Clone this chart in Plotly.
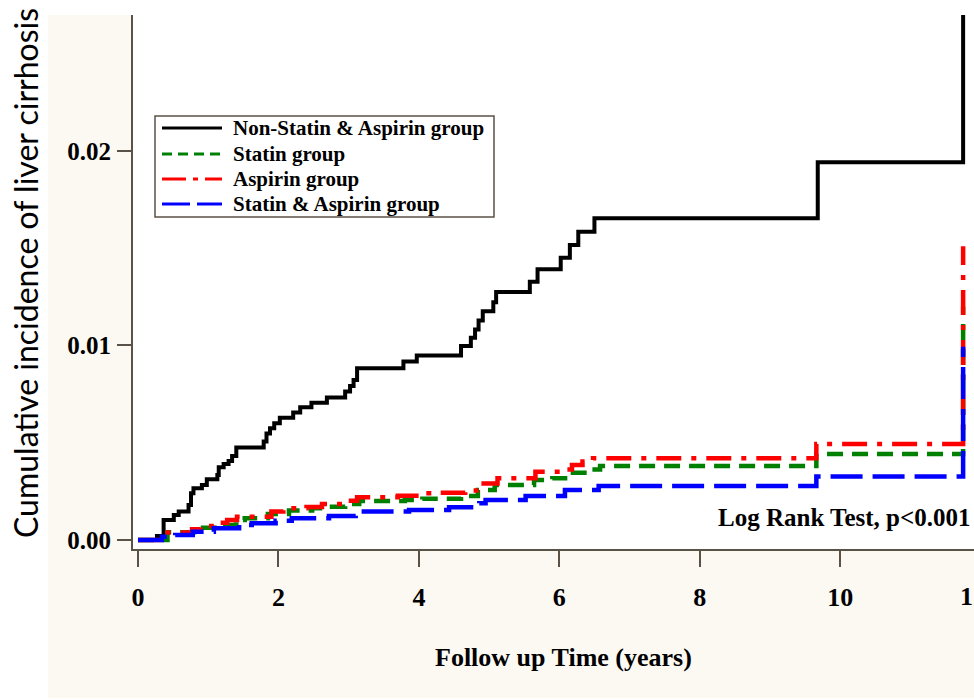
import plotly.graph_objects as go

# ---------------- data ----------------
groups = ["Non-Statin & Aspirin group", "Statin group", "Aspirin group", "Statin & Aspirin group"]

t_non = [0, 0.27, 0.365, 0.51, 0.58, 0.72, 0.755, 0.79, 0.91, 0.98, 1.13, 1.15, 1.22, 1.29, 1.34,
         1.40, 1.79, 1.83, 1.88, 1.94, 2.02, 2.21, 2.31, 2.47, 2.69, 2.95, 3.02, 3.07, 3.12, 3.78,
         3.97, 4.60, 4.74, 4.80, 4.85, 4.91, 5.06, 5.10, 5.58, 5.69, 6.02, 6.15, 6.27, 6.50, 9.68, 11.75]
y_non = [0, 0.0002, 0.00103, 0.00129, 0.00146, 0.0018, 0.0024, 0.00266, 0.00283, 0.00312, 0.00334,
         0.00374, 0.00391, 0.00406, 0.00432, 0.00475, 0.00506, 0.00548, 0.00574, 0.006, 0.00629,
         0.00655, 0.00682, 0.00706, 0.00732, 0.00763, 0.00792, 0.00823, 0.00883, 0.00917, 0.00948,
         0.00997, 0.0104, 0.01082, 0.01128, 0.01176, 0.01222, 0.01275, 0.01328, 0.01392, 0.01451,
         0.01517, 0.01585, 0.01654, 0.01942, 0.028]

t_statin = [0, 0.42, 0.80, 1.13, 1.40, 1.52, 1.85, 2.15, 2.48, 2.68, 2.95, 3.15, 3.80, 4.05, 4.60,
            4.84, 5.08, 5.64, 5.90, 6.13, 6.42, 6.58, 9.66, 11.75]
y_statin = [0, 0.0004, 0.00063, 0.00077, 0.00103, 0.00112, 0.00134, 0.00151, 0.00163, 0.00171,
            0.00185, 0.002, 0.00206, 0.00212, 0.00226, 0.00257, 0.00283, 0.00308, 0.00317, 0.00346,
            0.00363, 0.0038, 0.00442, 0.0120]

t_asp = [0, 0.42, 0.77, 0.89, 1.08, 1.27, 1.41, 1.90, 2.07, 2.40, 2.62, 2.98, 3.12, 3.70, 4.05,
         4.26, 4.66, 4.82, 5.12, 5.66, 6.04, 6.18, 6.33, 6.48, 9.66, 11.75]
y_asp = [0, 0.00038, 0.00055, 0.00072, 0.00089, 0.00103, 0.0012, 0.00146, 0.00163, 0.0017, 0.00185,
         0.00202, 0.0022, 0.00228, 0.0024, 0.00243, 0.00254, 0.00291, 0.00317, 0.00351, 0.00363,
         0.00386, 0.00403, 0.0042, 0.00493, 0.0151]

t_both = [0, 0.34, 0.53, 0.78, 1.08, 1.44, 1.62, 1.96, 2.19, 2.72, 3.10, 3.86, 4.43, 4.86, 4.95,
          5.52, 6.08, 6.56, 9.66, 11.75]
y_both = [0, 0.00017, 0.00026, 0.00043, 0.0006, 0.00077, 0.00086, 0.00099, 0.00112, 0.00123,
          0.00146, 0.00154, 0.00168, 0.00189, 0.00206, 0.00226, 0.00257, 0.00277, 0.00326, 0.00994]

x_ticks = [0, 2, 4, 6, 8, 10]
y_ticks = [0.00, 0.01, 0.02]
y_tick_text = ["0.00", "0.01", "0.02"]
edge_tick_text = "1"   # the only visible part of the clipped "12" label at the right edge

# ---------------- styling ----------------
colors = ["#000000", "#008000", "#FF0000", "#0000FF"]
widths = [4, 4.5, 4.5, 4.5]
dashes = ["solid", "16px,9px", "25px,10px,5px,10px", "32px,10px"]
legend_dashes = ["solid", "10px,6px", "24px,7px,5px,7px", "28px,7px"]
AX = "#5a5247"
SERIF = "Liberation Serif"

W, H = 974, 700
L, R, T, B = 133, 0, 15, 151
pw, ph = W - L - R, H - T - B

def px(X):
    return (X - L) / pw

def py(Y):
    return (H - B - Y) / ph

fig = go.Figure()
series = [(t_non, y_non), (t_statin, y_statin), (t_asp, y_asp), (t_both, y_both)]
for name, (tt, yy), c, w, d in zip(groups, series, colors, widths, dashes):
    fig.add_trace(go.Scatter(x=tt, y=yy, mode="lines", name=name, line_shape="hv",
                             line=dict(color=c, width=w, dash=d), showlegend=False,
                             cliponaxis=True))

shapes = [
    # beige page panel
    dict(type="rect", xref="paper", yref="paper", x0=px(48), x1=1.02, y0=py(698), y1=1,
         fillcolor="#FCF9F3", line=dict(width=0), layer="below"),
    # white plot area
    dict(type="rect", xref="paper", yref="paper", x0=0, x1=1.02, y0=0, y1=1,
         fillcolor="#FFFFFF", line=dict(width=0), layer="below"),
    # legend box
    dict(type="rect", xref="paper", yref="paper", x0=px(155), x1=px(494), y0=py(217), y1=py(116),
         fillcolor="rgba(255,255,255,0)", line=dict(color=AX, width=1.5)),
]
annotations = []
leg_y = [128, 154, 179, 204]
for name, c, d, Y in zip(groups, colors, legend_dashes, leg_y):
    shapes.append(dict(type="line", xref="paper", yref="paper", x0=px(162), x1=px(222),
                       y0=py(Y), y1=py(Y), line=dict(color=c, width=3, dash=d)))
    annotations.append(dict(xref="paper", yref="paper", x=px(231), y=py(Y), xanchor="left",
                            yanchor="middle", showarrow=False, text=name,
                            font=dict(family=SERIF, size=21, color="#000", weight="bold")))

annotations += [
    dict(xref="paper", yref="paper", x=px(973), y=py(517), xanchor="right", yanchor="middle",
         showarrow=False, text="Log Rank Test, p<0.001",
         font=dict(family=SERIF, size=25, color="#000", weight="bold")),
    dict(xref="paper", yref="paper", x=px(563), y=py(657), xanchor="center", yanchor="middle",
         showarrow=False, text="Follow up Time (years)",
         font=dict(family=SERIF, size=26, color="#000", weight="bold")),
    dict(xref="paper", yref="paper", x=px(25), y=py(273), xanchor="center", yanchor="middle",
         showarrow=False, textangle=-90, text="Cumulative incidence of liver cirrhosis",
         font=dict(family="Lato", size=32, color="#000")),
    dict(xref="paper", yref="paper", x=px(975), y=py(596), xanchor="right", yanchor="middle",
         showarrow=False, text=edge_tick_text,
         font=dict(family=SERIF, size=26, color="#000", weight="bold")),
]

fig.update_layout(
    width=W, height=H,
    margin=dict(l=L, r=R, t=T, b=B, pad=0),
    paper_bgcolor="#FFFFFF", plot_bgcolor="#FFFFFF",
    shapes=shapes, annotations=annotations,
    showlegend=False,
    xaxis=dict(range=[-0.071, 11.905], tickvals=x_ticks, ticks="outside", ticklen=16,
               tickwidth=2, tickcolor=AX, showline=True, linecolor=AX, linewidth=2,
               showgrid=False, zeroline=False, ticklabelstandoff=8,
               tickfont=dict(family=SERIF, size=26, color="#000", weight="bold")),
    yaxis=dict(range=[-0.000463, 0.02699], tickvals=y_ticks, ticktext=y_tick_text,
               ticks="outside", ticklen=14, tickwidth=2, tickcolor=AX, showline=True,
               linecolor=AX, linewidth=2, showgrid=False, zeroline=False, ticklabelstandoff=1,
               tickfont=dict(family=SERIF, size=25, color="#000", weight="bold")),
)

fig.write_html("out.html")
